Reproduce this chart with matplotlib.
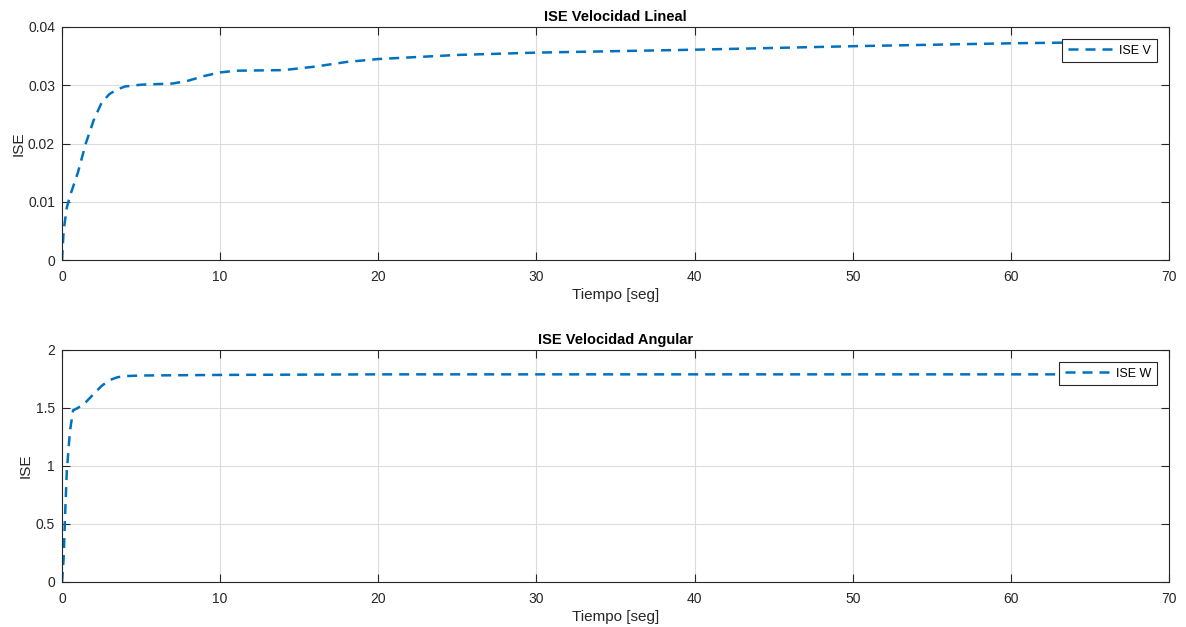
import matplotlib.pyplot as plt
import numpy as np

plt.rcParams['font.family'] = ['Liberation Sans', 'DejaVu Sans']

# ISE velocidad lineal
t_v = [0, 0.1, 0.3, 0.5, 1, 1.5, 2, 2.5, 3, 3.5, 4, 5, 6, 7, 8, 9, 10, 11, 14,
       16, 18, 20, 25, 30, 40, 50, 60, 66]
ise_v = [0, 0.005, 0.009, 0.011, 0.015, 0.020, 0.024, 0.027, 0.0285, 0.0293,
         0.0298, 0.0301, 0.0302, 0.0303, 0.0308, 0.0316, 0.0322, 0.0325, 0.0326,
         0.0332, 0.0340, 0.0345, 0.0352, 0.0356, 0.0361, 0.0367, 0.0372, 0.0374]

# ISE velocidad angular
t_w = [0, 0.1, 0.2, 0.3, 0.5, 0.7, 1, 1.5, 2, 2.5, 3, 3.5, 4, 5, 10, 20, 66]
ise_w = [0, 0.2, 0.6, 0.95, 1.3, 1.48, 1.5, 1.55, 1.62, 1.69, 1.74, 1.765,
         1.775, 1.78, 1.785, 1.79, 1.79]

color = '#0072BD'

fig = plt.figure(figsize=(11.86, 6.27), dpi=100)
ax1 = fig.add_axes([0.0523, 0.585, 0.9334, 0.372])
ax2 = fig.add_axes([0.0523, 0.0718, 0.9334, 0.370])

panels = [
    (ax1, t_v, ise_v, 'ISE V', 'ISE Velocidad Lineal', 0.04, np.arange(0, 0.041, 0.01)),
    (ax2, t_w, ise_w, 'ISE W', 'ISE Velocidad Angular', 2, np.arange(0, 2.01, 0.5)),
]

for ax, t, y, lab, title, ymax, yt in panels:
    ax.plot(t, y, color=color, lw=1.8, dashes=(4, 2.8), label=lab)
    ax.set_xlim(0, 70)
    ax.set_ylim(0, ymax)
    ax.set_yticks(yt)
    ax.set_yticklabels(['0' if v == 0 else f'{v:g}' for v in yt])
    ax.set_xticks(range(0, 71, 10))
    ax.grid(True, color='#dcdcdc', lw=0.8)
    ax.set_axisbelow(True)
    ax.tick_params(direction='in', length=6, width=0.8, colors='#262626',
                   labelsize=10, top=True, right=True, labeltop=False, labelright=False)
    ax.tick_params(axis='x', pad=7)
    ax.tick_params(axis='y', pad=5)
    for s in ax.spines.values():
        s.set_color('#262626')
        s.set_linewidth(0.8)
    ax.set_xlabel('Tiempo [seg]', fontsize=11, color='#262626', labelpad=3)
    ax.set_ylabel('ISE', fontsize=11, color='#262626', labelpad=2)
    ax.set_title(title, fontsize=10.5, fontweight='bold', pad=4)
    leg = ax.legend(loc='upper right', fontsize=9, fancybox=False, framealpha=1,
                    edgecolor='#262626', handlelength=4.0, handletextpad=0.1,
                    borderpad=0.45, borderaxespad=0, bbox_to_anchor=(0.989, 0.948))
    leg.get_frame().set_linewidth(0.8)

fig.savefig('out.png', dpi=100, facecolor='white')
